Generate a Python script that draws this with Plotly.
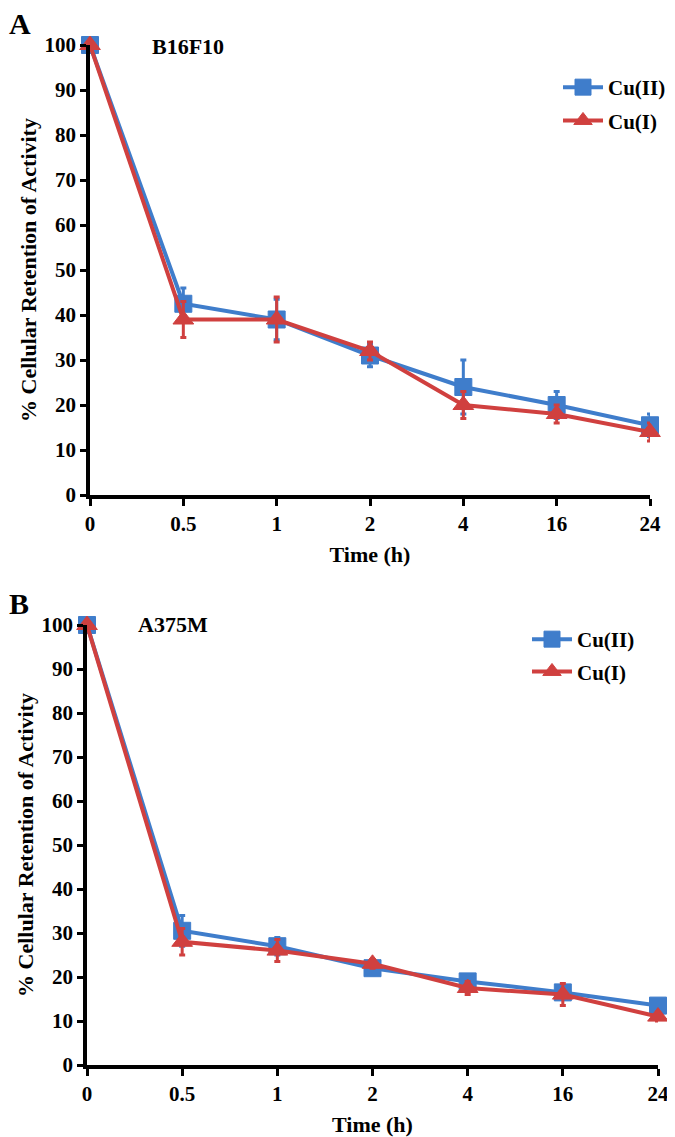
import plotly.graph_objects as go

# ---------------- data ----------------
time_labels = ["0", "0.5", "1", "2", "4", "16", "24"]

a_cu2 = [100, 42.5, 39, 31, 24, 20, 15.5]
a_cu2_err = [0, 3.5, 4.5, 2.5, 6, 3, 2.5]
a_cu1 = [100, 39, 39, 32, 20, 18, 14]
a_cu1_err = [0, 4, 5, 2, 3, 2, 2]

b_cu2 = [100, 30.5, 27, 22, 19, 16.5, 13.5]
b_cu2_err = [0, 3.5, 2, 1.5, 1.5, 1.5, 1]
b_cu1 = [100, 28, 26, 23, 17.5, 16, 11]
b_cu1_err = [0, 3, 2.5, 1, 1.5, 2.5, 1]

series_names = ["Cu(II)", "Cu(I)"]
panel_titles = ["B16F10", "A375M"]
panel_letters = ["A", "B"]

# ---------------- style ----------------
BLUE = "#3f7dcb"
RED = "#d0403f"
FONT = "Liberation Serif"
PAGE_W, PAGE_H = 675, 1137
OFF = 8  # default page body margin
W, H = PAGE_W - OFF, PAGE_H - OFF


def px(x):
    return (x - OFF) / W


def py(y):
    return 1 - (y - OFF) / H


fig = go.Figure()


def add_series(y, err, name, color, symbol, xa, ya, legend, size, group):
    fig.add_trace(go.Scatter(
        x=time_labels, y=y, name=name, mode="lines+markers",
        line=dict(color=color, width=4),
        marker=dict(symbol=symbol, size=size, color=color,
                    line=dict(color=color, width=1)),
        error_y=dict(type="data", array=err, visible=True, color=color,
                     thickness=3, width=3),
        xaxis=xa, yaxis=ya, legend=legend, legendgroup=group, cliponaxis=False,
    ))


add_series(a_cu2, a_cu2_err, series_names[0], BLUE, "square", "x", "y", "legend", 17, "a2")
add_series(a_cu1, a_cu1_err, series_names[1], RED, "triangle-up", "x", "y", "legend", 18, "a1")
add_series(b_cu2, b_cu2_err, series_names[0], BLUE, "square", "x2", "y2", "legend2", 17, "b2")
add_series(b_cu1, b_cu1_err, series_names[1], RED, "triangle-up", "x2", "y2", "legend2", 18, "b1")

tickfont = dict(family=FONT, size=21, color="black", weight="bold")
titlefont = dict(family=FONT, size=22, color="black", weight="bold")
legfont = dict(family=FONT, size=21, color="black", weight="bold")


def xax(domain, anchor):
    return dict(domain=domain, anchor=anchor, type="category", automargin=False,
                range=[0, 6], showline=True, linecolor="black", linewidth=3.5,
                ticks="outside", ticklen=7, tickwidth=3, tickcolor="black",
                ticklabelstandoff=0,
                showgrid=False, zeroline=False, tickfont=tickfont,
                title=dict(text="Time (h)", font=titlefont, standoff=13))


def yax(domain, anchor):
    return dict(domain=domain, anchor=anchor, range=[0, 100], automargin=False,
                tickmode="linear", tick0=0, dtick=10,
                showline=True, linecolor="black", linewidth=3.5,
                ticks="outside", ticklen=6, tickwidth=3, tickcolor="black",
                showgrid=False, zeroline=False, tickfont=tickfont,
                title=dict(text="% Cellular Retention of Activity",
                           font=titlefont, standoff=3))


fig.update_layout(
    width=W, height=H,
    margin=dict(l=0, r=0, t=0, b=0, autoexpand=False),
    paper_bgcolor="white", plot_bgcolor="white",
    font=dict(family=FONT, color="black"),
    xaxis=xax([px(90), px(650)], "y"),
    yaxis=yax([py(495), py(45)], "x"),
    xaxis2=xax([px(87), px(658)], "y2"),
    yaxis2=yax([py(1065), py(625)], "x2"),
    legend=dict(x=px(558), y=py(67), xanchor="left", yanchor="top",
                font=legfont, traceorder="grouped",
                bgcolor="rgba(0,0,0,0)", tracegroupgap=3, itemwidth=40),
    legend2=dict(x=px(527), y=py(619), xanchor="left", yanchor="top",
                 font=legfont, traceorder="grouped",
                 bgcolor="rgba(0,0,0,0)", tracegroupgap=2, itemwidth=40),
    showlegend=True,
)

# panel letters and titles
letter_font = dict(family=FONT, size=30, color="black", weight="bold")
title_font = dict(family=FONT, size=22, color="black", weight="bold")
fig.add_annotation(text=panel_letters[0], x=px(20), y=py(23),
                   xref="paper", yref="paper", xanchor="center", yanchor="middle",
                   showarrow=False, font=letter_font)
fig.add_annotation(text=panel_letters[1], x=px(19), y=py(603),
                   xref="paper", yref="paper", xanchor="center", yanchor="middle",
                   showarrow=False, font=letter_font)
fig.add_annotation(text=panel_titles[0], x=px(188), y=py(47),
                   xref="paper", yref="paper", xanchor="center", yanchor="middle",
                   showarrow=False, font=title_font)
fig.add_annotation(text=panel_titles[1], x=px(173), y=py(624),
                   xref="paper", yref="paper", xanchor="center", yanchor="middle",
                   showarrow=False, font=title_font)

fig.write_html("out.html")
